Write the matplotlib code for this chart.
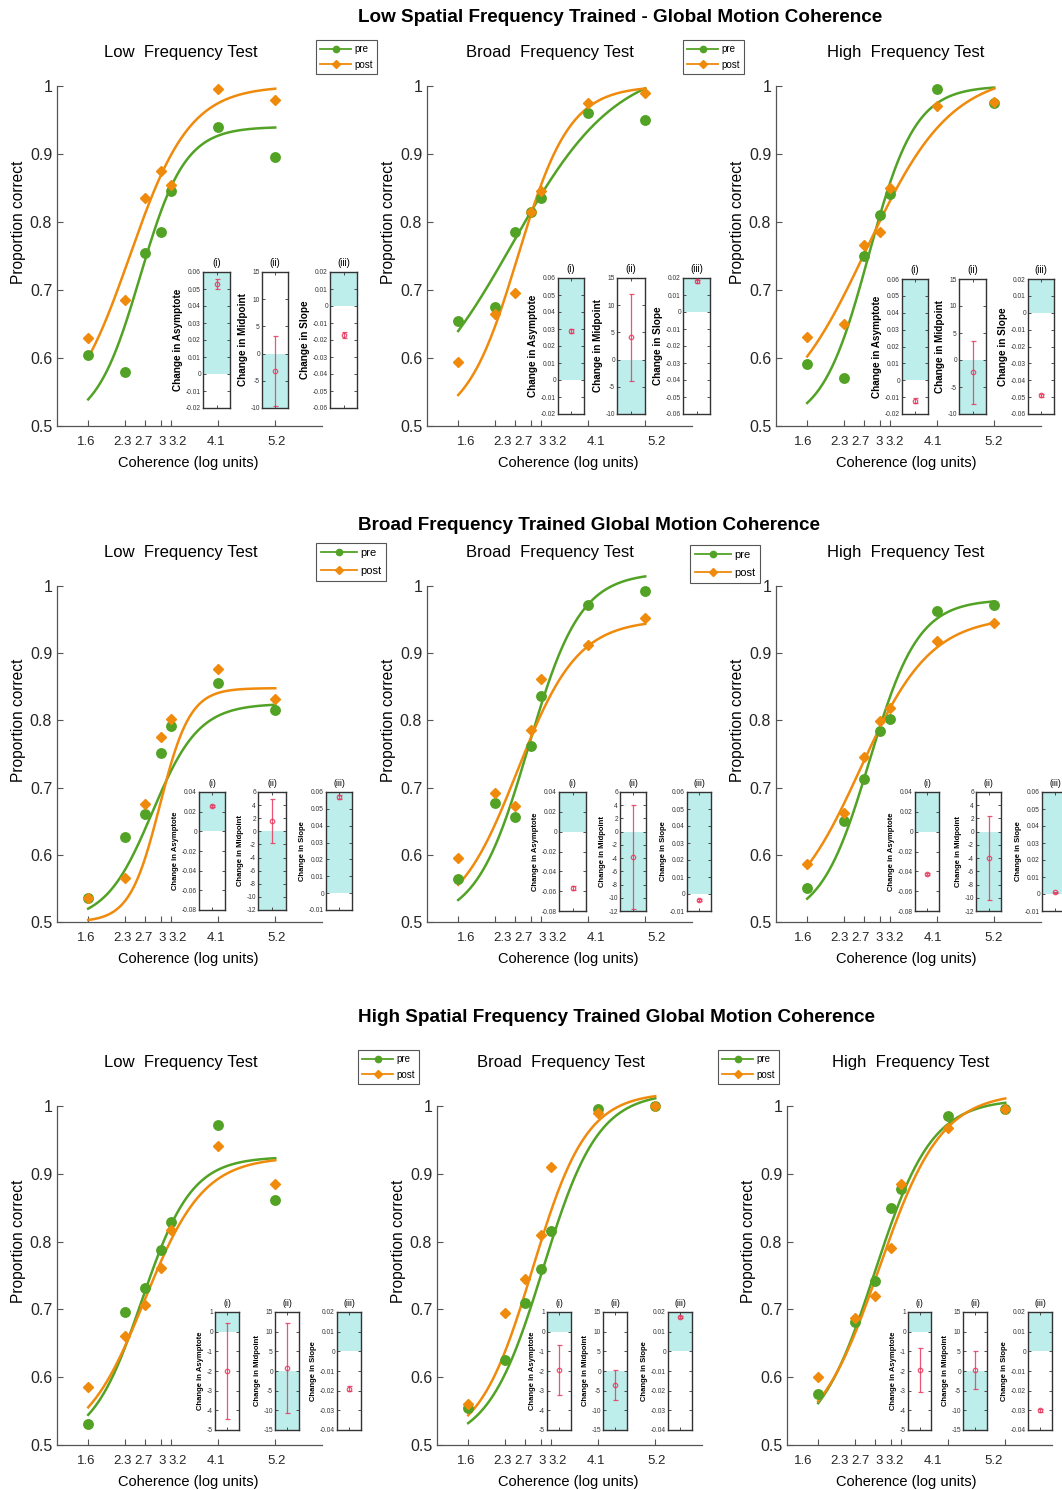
import numpy as np
import matplotlib
matplotlib.use('Agg')
import matplotlib.pyplot as plt
from matplotlib.ticker import FuncFormatter, MultipleLocator
from matplotlib.transforms import ScaledTranslation
from matplotlib.lines import Line2D

plt.rcParams['font.family'] = ['Liberation Sans', 'DejaVu Sans']

W, H = 1062, 1490

# ---------------- data ----------------
coherence = [1.6, 2.3, 2.7, 3.0, 3.2, 4.1, 5.2]
coherence_labels = ['1.6', '2.3', '2.7', '3', '3.2', '4.1', '5.2']

row_titles = ['Low Spatial Frequency Trained - Global Motion Coherence',
              'Broad Frequency Trained Global Motion Coherence',
              'High Spatial Frequency Trained Global Motion Coherence']
test_titles = ['Low  Frequency Test', 'Broad  Frequency Test', 'High  Frequency Test']
series_names = ['pre', 'post']

# proportion correct, [row][col][coherence]
pre_low_trained = [[0.605, 0.579, 0.755, 0.785, 0.845, 0.94, 0.895],
                   [0.655, 0.675, 0.785, 0.815, 0.835, 0.96, 0.95],
                   [0.591, 0.571, 0.75, 0.81, 0.841, 0.996, 0.975]]
post_low_trained = [[0.63, 0.685, 0.835, 0.875, 0.855, 0.995, 0.98],
                    [0.594, 0.664, 0.695, 0.815, 0.845, 0.975, 0.99],
                    [0.631, 0.65, 0.766, 0.785, 0.85, 0.97, 0.976]]
pre_broad_trained = [[0.536, 0.626, 0.661, 0.751, 0.792, 0.856, 0.815],
                     [0.564, 0.677, 0.656, 0.762, 0.836, 0.972, 0.993],
                     [0.551, 0.65, 0.713, 0.784, 0.802, 0.963, 0.972]]
post_broad_trained = [[0.536, 0.565, 0.676, 0.775, 0.802, 0.876, 0.832],
                      [0.595, 0.692, 0.673, 0.786, 0.862, 0.912, 0.952],
                      [0.586, 0.662, 0.746, 0.799, 0.818, 0.918, 0.945]]
pre_high_trained = [[0.531, 0.696, 0.732, 0.788, 0.829, 0.972, 0.861],
                    [0.555, 0.625, 0.71, 0.76, 0.815, 0.995, 1.0],
                    [0.575, 0.681, 0.742, 0.85, 0.877, 0.985, 0.995]]
post_high_trained = [[0.586, 0.661, 0.706, 0.761, 0.817, 0.941, 0.885],
                     [0.56, 0.695, 0.745, 0.81, 0.91, 0.99, 1.0],
                     [0.6, 0.687, 0.72, 0.79, 0.885, 0.968, 0.995]]

# fitted psychometric functions (asymptote, midpoint, slope scale)
fit_pre = [[(0.94, 2.6, 0.43), (1.035, 2.64, 1.0), (1.0, 2.78, 0.45)],
           [(0.825, 2.83, 0.45), (1.02, 2.95, 0.5), (0.98, 2.80, 0.47)],
           [(0.925, 2.63, 0.48), (1.02, 3.04, 0.53), (1.01, 2.69, 0.55)]]
fit_post = [[(1.0, 2.4, 0.58), (1.0, 2.75, 0.5), (1.02, 2.74, 0.81)],
            [(0.848, 2.98, 0.29), (0.95, 2.74, 0.58), (0.955, 2.62, 0.68)],
            [(0.925, 2.68, 0.57), (1.02, 2.84, 0.52), (1.02, 2.77, 0.6)]]

# inset parameter changes [row][col]
asym_change = [[0.053, 0.029, -0.012], [0.026, -0.057, -0.043], [-2.0, -1.95, -1.95]]
asym_err = [[0.003, 0.0012, 0.0012], [0.001, 0.002, 0.0012], [2.45, 1.25, 1.1]]
mid_change = [[-3.2, 4.1, -2.3], [1.6, -3.8, -4.0], [0.7, -3.5, 0.3]]
mid_err = [[6.5, 8.0, 5.8], [3.4, 7.85, 6.4], [11.4, 3.85, 4.8]]
slope_change = [[-0.017, 0.018, -0.049], [0.057, -0.0035, 0.001], [-0.019, 0.0175, -0.030]]
slope_err = [[0.0018, 0.0008, 0.0008], [0.0012, 0.0006, 0.0004], [0.0012, 0.0006, 0.0008]]

inset_labels = ['Change in Asymptote', 'Change in Midpoint', 'Change in Slope']
inset_titles = ['(i)', '(ii)', '(iii)']

# ---------------- layout (pixels) ----------------
row_tb = [(86, 426), (586, 922), (1106, 1445)]
col_lr = [[(57, 322), (427, 692), (776, 1041)],
          [(57, 322), (427, 692), (776, 1041)],
          [(57, 322), (437, 702), (787, 1052)]]
col_dx = [[0, 10, -2], [0, 10, -2], [0, 0, -13]]
label_dx = [-2, -2, -2, 1, 6, -2, 1]
title_y = [52, 552, 1062]
title_x = [[181, 550, 906], [181, 550, 906], [181, 561, 911]]
xlabel_x = [188, 568, 906]
suptitle_y = [18, 525, 1017]
legend_pos = [[(316, 40), (683, 40)], [(316, 543), (690, 545)], [(358, 1050), (718, 1050)]]
legend_fs = [7, 8, 7]
legend_sp = [0.55, 0.75, 0.55]

inset_y = [[(272, 408), (278, 414), (279, 414)],
           [(792, 910), (792, 911), (792, 911)],
           [(1312, 1430), (1312, 1430), (1312, 1430)]]
inset_x = [[[(203, 230), (262, 288), (330, 357)],
            [(558, 584), (617, 645), (683, 710)],
            [(902, 928), (959, 986), (1028, 1054)]],
           [[(199, 225), (258, 286), (326, 352)],
            [(559, 586), (620, 646), (687, 711)],
            [(915, 939), (976, 1001), (1042, 1068)]],
           [[(215, 239), (275, 299), (337, 361)],
            [(547, 571), (603, 627), (668, 692)],
            [(908, 931), (963, 987), (1028, 1052)]]]
inset_ylims = [[(-0.02, 0.06, 0.01), (-10, 15, 5), (-0.06, 0.02, 0.01)],
               [(-0.08, 0.04, 0.02), (-12, 6, 2), (-0.01, 0.06, 0.01)],
               [(-5, 1, 1), (-15, 15, 5), (-0.04, 0.02, 0.01)]]
inset_shade_up = [True, False, True]

GREEN = '#52a225'
ORANGE = '#ef8a0c'
CYAN = '#bdeeec'
RED = '#e8385e'
AXC = '#333333'

fig = plt.figure(figsize=(W / 100, H / 100), dpi=100)


def px_axes(l, t, r, b):
    return fig.add_axes([l / W, 1 - b / H, (r - l) / W, (b - t) / H])


def fmt(v, p):
    v = round(v, 6)
    if v == 0:
        return '0'
    return f'{v:g}'


pre_rows = [pre_low_trained, pre_broad_trained, pre_high_trained]
post_rows = [post_low_trained, post_broad_trained, post_high_trained]

xs = np.linspace(coherence[0], coherence[-1], 300)

for r in range(3):
    fig.text(358 / W, 1 - suptitle_y[r] / H, row_titles[r], ha='left', va='center',
             fontsize=13.6, fontweight='bold')
    t, b = row_tb[r]
    for c in range(3):
        l, rr = col_lr[r][c]
        ax = px_axes(l, t, rr, b)
        ax.set_xlim(1, 6.1)
        ax.set_ylim(0.5, 1)
        for sp in ['top', 'right']:
            ax.spines[sp].set_visible(False)
        for sp in ['left', 'bottom']:
            ax.spines[sp].set_color('#555555')
            ax.spines[sp].set_linewidth(0.9)
        ax.tick_params(direction='in', length=4, color='#555555', labelcolor='#262626')
        ax.set_xticks(coherence)
        ax.set_xticklabels(coherence_labels, fontsize=9.5)
        ax.set_yticks([0.5, 0.6, 0.7, 0.8, 0.9, 1.0])
        ax.yaxis.set_major_formatter(FuncFormatter(fmt))
        ax.tick_params(axis='y', labelsize=11.5)
        ax.tick_params(axis='x', pad=7)
        for lab, d in zip(ax.get_xticklabels(), label_dx):
            lab.set_transform(lab.get_transform() +
                              ScaledTranslation((col_dx[r][c] + d) / 100, 0, fig.dpi_scale_trans))

        pa, pm, ps = fit_pre[r][c]
        qa, qm, qs = fit_post[r][c]
        ax.plot(xs, 0.5 + (pa - 0.5) / (1 + np.exp(-(xs - pm) / ps)), color=GREEN, lw=1.8, clip_on=False, zorder=2)
        ax.plot(xs, 0.5 + (qa - 0.5) / (1 + np.exp(-(xs - qm) / qs)), color=ORANGE, lw=1.8, clip_on=False, zorder=2)
        ax.plot(coherence, pre_rows[r][c], 'o', color=GREEN, ms=6.8, clip_on=False, zorder=3)
        ax.plot(coherence, post_rows[r][c], 'D', color=ORANGE, ms=5.6, clip_on=False, zorder=4)

        ax.set_ylabel('Proportion correct', fontsize=11.2)
        ax.yaxis.set_label_coords(-0.118, 0.6)
        fig.text(xlabel_x[c] / W, 1 - (b + 37) / H, 'Coherence (log units)', ha='center', va='center', fontsize=10.5)
        fig.text(title_x[r][c] / W, 1 - title_y[r] / H, test_titles[c], ha='center', va='center', fontsize=12)

        # insets
        it, ib = inset_y[r][c]
        vals = [(asym_change[r][c], asym_err[r][c]), (mid_change[r][c], mid_err[r][c]),
                (slope_change[r][c], slope_err[r][c])]
        for k in range(3):
            il, ir = inset_x[r][c][k]
            ia = px_axes(il, it, ir, ib)
            lo, hi, st = inset_ylims[r][k]
            ia.set_xlim(0, 2)
            ia.set_ylim(lo, hi)
            if inset_shade_up[k]:
                ia.axhspan(0, hi, color=CYAN, lw=0, zorder=0)
            else:
                ia.axhspan(lo, 0, color=CYAN, lw=0, zorder=0)
            v, e = vals[k]
            ia.errorbar([1], [v], yerr=[e], fmt='o', mfc='none', mec=RED, ecolor=RED,
                        ms=3.2, mew=0.9, elinewidth=0.9, capsize=1.8, capthick=0.9, alpha=0.85, zorder=3)
            ia.set_xticks([1])
            ia.set_xticklabels([])
            ia.yaxis.set_major_locator(MultipleLocator(st))
            ia.yaxis.set_major_formatter(FuncFormatter(fmt))
            ia.tick_params(direction='in', length=2, width=0.6, labelsize=4.8, top=True, right=True,
                           color='#333333', labelcolor='#333333', pad=1.5)
            for sp in ia.spines.values():
                sp.set_color(AXC)
                sp.set_linewidth(1.0)
            lfs = 7.2 if r == 0 else 5.5
            ia.set_ylabel(inset_labels[k], fontsize=lfs, fontweight='bold', labelpad=2)
            ia.set_title(inset_titles[k], fontsize=7 if r == 0 else 6.2, pad=4)

    # legends
    for c in range(2):
        lx, ly = legend_pos[r][c]
        handles = [Line2D([], [], color=GREEN, marker='o', ms=4.5, lw=1.3),
                   Line2D([], [], color=ORANGE, marker='D', ms=3.8, lw=1.3)]
        leg = fig.legend(handles, series_names, loc='upper left', bbox_to_anchor=(lx / W, 1 - ly / H),
                         bbox_transform=fig.transFigure, fontsize=legend_fs[r], frameon=True, fancybox=False,
                         edgecolor='#555555', framealpha=1, handlelength=3.2, borderpad=0.45,
                         labelspacing=legend_sp[r], handletextpad=0.3, borderaxespad=0)
        leg.get_frame().set_linewidth(0.8)

fig.savefig('out.png', dpi=100)
